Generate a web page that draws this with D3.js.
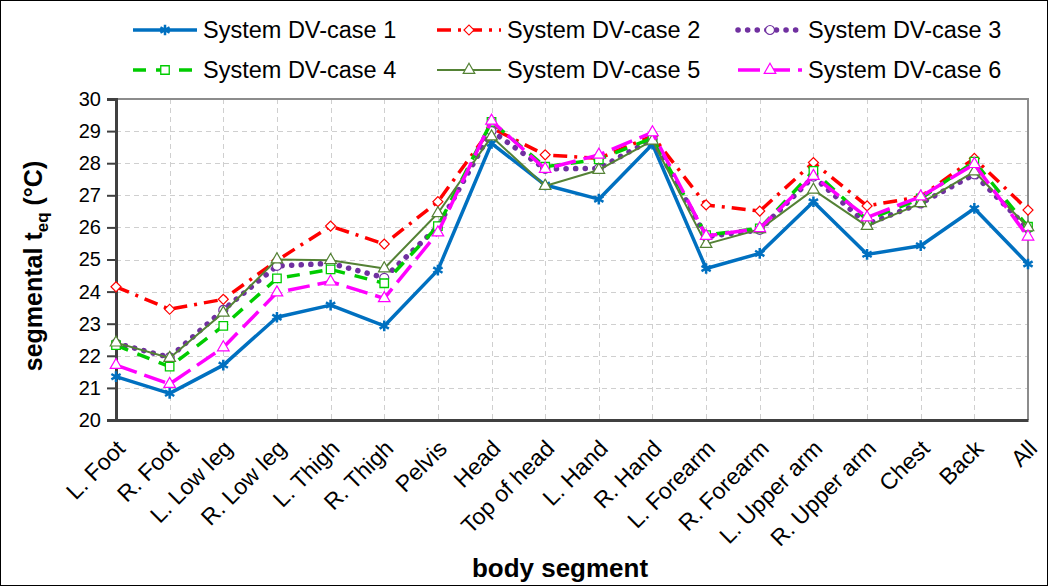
<!DOCTYPE html>
<html lang="en">
<head>
  <meta charset="UTF-8">
  <title>segmental teq per body segment</title>
  <script src="https://d3js.org/d3.v7.min.js"></script>
  <style>
    body { margin: 0; background: #fff; }
    text { font-family: "Liberation Sans", Arial, sans-serif; fill: #000; }
  </style>
</head>
<body>
<script>
  // body segments on the x axis
  var segments = ["L. Foot", "R. Foot", "L. Low leg", "R. Low leg", "L. Thigh", "R. Thigh",
    "Pelvis", "Head", "Top of head", "L. Hand", "R. Hand", "L. Forearm", "R. Forearm",
    "L. Upper arm", "R. Upper arm", "Chest", "Back", "All"];

  // segmental teq values (°C)
  var case1 = [21.35, 20.83, 21.71, 23.2, 23.58, 22.93, 24.67, 28.62, 27.32, 26.88, 28.59, 24.72, 25.19, 26.8, 25.16, 25.43, 26.59, 24.86];
  var case2 = [24.15, 23.45, 23.76, 24.97, 26.04, 25.48, 26.8, 29.1, 28.26, 28.15, 28.85, 26.7, 26.51, 28.02, 26.67, 26.96, 28.15, 26.54];
  var case3 = [22.39, 21.95, 23.43, 24.8, 24.88, 24.43, 26.02, 29.0, 27.82, 27.84, 28.75, 25.71, 25.92, 27.58, 26.1, 26.75, 27.65, 25.97];
  var case4 = [22.33, 21.66, 22.93, 24.41, 24.69, 24.26, 26.04, 29.29, 27.89, 28.12, 28.78, 25.76, 25.97, 27.76, 26.23, 26.9, 28.05, 26.02];
  var case5 = [22.41, 21.93, 23.34, 25.0, 24.98, 24.72, 26.44, 28.83, 27.29, 27.79, 28.7, 25.48, 25.94, 27.17, 26.04, 26.75, 27.74, 26.0];
  var case6 = [21.71, 21.12, 22.26, 23.97, 24.31, 23.79, 25.84, 29.32, 27.82, 28.26, 28.96, 25.73, 25.97, 27.6, 26.31, 26.96, 27.97, 25.71];

  var seriesNames = ["System DV-case 1", "System DV-case 2", "System DV-case 3",
    "System DV-case 4", "System DV-case 5", "System DV-case 6"];
  var yTicks = [20, 21, 22, 23, 24, 25, 26, 27, 28, 29, 30];

  // line + marker look of each series (rot = rotate the marker)
  var styles = [
    { color: "#0070C0", width: 3.5, dash: null, cap: "butt", symbol: d3.symbolAsterisk, size: 80, rot: 0, fill: "none", mstroke: 2.5 },
    { color: "#FF0000", width: 3.5, dash: "14,7,3,7", cap: "butt", symbol: d3.symbolSquare, size: 50, rot: 45, fill: "#fff", mstroke: 1.2 },
    { color: "#7030A0", width: 5.5, dash: "0.1,9.5", cap: "round", symbol: d3.symbolCircle, size: 64, rot: 0, fill: "#fff", mstroke: 1.2 },
    { color: "#00CC00", width: 3.5, dash: "13,10", cap: "butt", symbol: d3.symbolSquare, size: 72, rot: 0, fill: "#fff", mstroke: 1.3 },
    { color: "#548235", width: 2, dash: null, cap: "butt", symbol: d3.symbolTriangle, size: 58, rot: 0, fill: "#fff", mstroke: 1.2 },
    { color: "#FF00FF", width: 3.5, dash: "22,8", cap: "butt", symbol: d3.symbolTriangle, size: 58, rot: 0, fill: "#fff", mstroke: 1.2 }
  ];
  var allSeries = [case1, case2, case3, case4, case5, case6];

  var W = 1048, H = 586;
  var plotL = 116, plotR = 1028, plotT = 99, plotB = 420;

  var svg = d3.select("body").append("svg")
    .attr("width", W)
    .attr("height", H);

  svg.append("rect").attr("width", W).attr("height", H).attr("fill", "#fff");
  // outer frame
  svg.append("rect")
    .attr("x", 0.5).attr("y", 0.5).attr("width", W - 1).attr("height", H - 1)
    .attr("fill", "none").attr("stroke", "#000").attr("stroke-width", 1);

  var x = d3.scalePoint().domain(segments).range([plotL, plotR]);
  var y = d3.scaleLinear().domain([20, 30]).range([plotB, plotT]);

  // grid
  var grid = svg.append("g").attr("stroke", "#cfcfcf").attr("stroke-width", 1).attr("stroke-dasharray", "5,4");
  grid.selectAll(".hg").data(yTicks.slice(1, -1)).enter().append("line")
    .attr("x1", plotL).attr("x2", plotR)
    .attr("y1", function(d) { return Math.round(y(d)) + 0.5; })
    .attr("y2", function(d) { return Math.round(y(d)) + 0.5; });
  grid.selectAll(".vg").data(segments.slice(1, -1)).enter().append("line")
    .attr("y1", plotT).attr("y2", plotB)
    .attr("x1", function(d) { return Math.round(x(d)) + 0.5; })
    .attr("x2", function(d) { return Math.round(x(d)) + 0.5; });

  // top and right border of plot area
  svg.append("path")
    .attr("d", "M" + plotL + "," + plotT + "H" + plotR + "V" + plotB)
    .attr("fill", "none").attr("stroke", "#8c8c8c").attr("stroke-width", 2);

  // y axis
  var yAxis = svg.append("g")
    .attr("transform", "translate(" + plotL + ",0)")
    .call(d3.axisLeft(y).tickValues(yTicks).tickSize(9).tickPadding(6));
  yAxis.select(".domain").attr("stroke", "#404040").attr("stroke-width", 3);
  yAxis.selectAll(".tick line").attr("stroke", "#404040").attr("stroke-width", 2);
  yAxis.selectAll(".tick text").style("font-size", "20px").attr("fill", "#000");

  // x axis
  var xAxis = svg.append("g")
    .attr("transform", "translate(0," + plotB + ")")
    .call(d3.axisBottom(x).tickSize(0).tickPadding(0));
  xAxis.select(".domain").attr("stroke", "#404040").attr("stroke-width", 3);
  xAxis.selectAll(".tick text")
    .style("font-size", "23px")
    .attr("fill", "#000")
    .attr("text-anchor", "end")
    .attr("dy", null)
    .attr("y", 0)
    .attr("transform", "translate(10,30) rotate(-45)");

  // series lines
  var line = d3.line()
    .x(function(d, i) { return x(segments[i]); })
    .y(function(d) { return y(d); });

  allSeries.forEach(function(vals, k) {
    var s = styles[k];
    var g = svg.append("g");
    g.append("path")
      .attr("d", line(vals))
      .attr("fill", "none")
      .attr("stroke", s.color)
      .attr("stroke-width", s.width)
      .attr("stroke-dasharray", s.dash)
      .attr("stroke-linecap", s.cap)
      .attr("stroke-linejoin", "round");
    g.selectAll(".m").data(vals).enter().append("path")
      .attr("d", d3.symbol().type(s.symbol).size(s.size))
      .attr("transform", function(d, i) {
        return "translate(" + x(segments[i]) + "," + y(d) + ") rotate(" + s.rot + ")";
      })
      .attr("fill", s.fill)
      .attr("stroke", s.color)
      .attr("stroke-width", s.mstroke);
  });

  // legend
  var legendPos = [[133, 30], [437, 30], [738, 30], [133, 70], [437, 70], [738, 70]];
  seriesNames.forEach(function(name, k) {
    var s = styles[k];
    var p = legendPos[k];
    var g = svg.append("g").attr("transform", "translate(" + p[0] + "," + p[1] + ")");
    g.append("line")
      .attr("x1", 0).attr("x2", 64).attr("y1", 0).attr("y2", 0)
      .attr("stroke", s.color)
      .attr("stroke-width", s.width)
      .attr("stroke-dasharray", s.dash)
      .attr("stroke-linecap", s.cap);
    g.append("path")
      .attr("d", d3.symbol().type(s.symbol).size(s.size))
      .attr("transform", "translate(32,0) rotate(" + s.rot + ")")
      .attr("fill", s.fill)
      .attr("stroke", s.color)
      .attr("stroke-width", s.mstroke);
    g.append("text")
      .attr("x", 70).attr("y", 0).attr("dy", "0.35em")
      .style("font-size", "23.5px")
      .text(name);
  });

  // axis titles
  svg.append("text")
    .attr("x", 560).attr("y", 577)
    .attr("text-anchor", "middle")
    .style("font-size", "26px").style("font-weight", "bold")
    .text("body segment");

  var yt = svg.append("text")
    .attr("transform", "translate(42,266) rotate(-90)")
    .attr("text-anchor", "middle")
    .style("font-size", "25px").style("font-weight", "bold");
  yt.append("tspan").text("segmental t");
  yt.append("tspan").attr("dy", 6).style("font-size", "17px").text("eq");
  yt.append("tspan").attr("dy", -6).text(" (°C)");
</script>
</body>
</html>
